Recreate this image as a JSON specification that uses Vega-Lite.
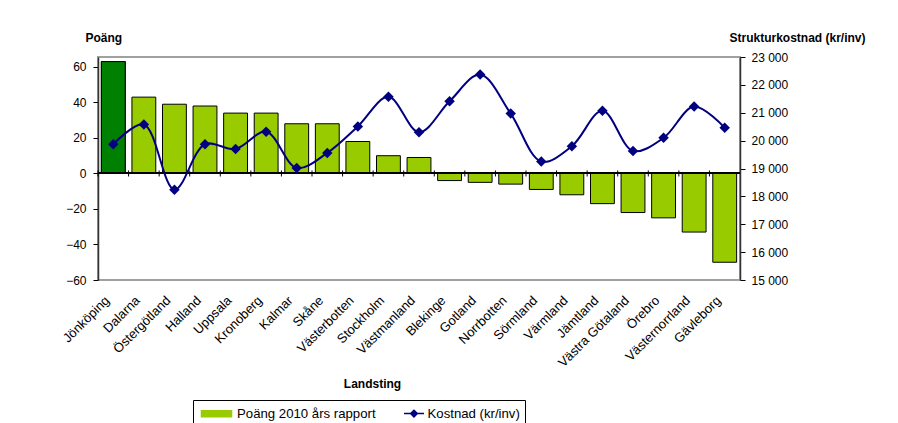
{
  "$schema": "https://vega.github.io/schema/vega-lite/v6.json",
  "width": 642,
  "height": 223,
  "autosize": {"type": "none"},
  "padding": {"left": 98, "top": 57, "right": 158, "bottom": 143},
  "background": "white",
  "config": {
    "view": {"stroke": "#A0A0A0", "strokeWidth": 2},
    "font": "Liberation Sans",
    "axis": {"labelFont": "Liberation Sans", "titleFont": "Liberation Sans", "labelColor": "black", "titleColor": "black", "grid": false, "labelOverlap": false}
  },
  "data": {"values": [
    {"landsting": "Jönköping", "poang": 63, "kostnad": 19870},
    {"landsting": "Dalarna", "poang": 43, "kostnad": 20580},
    {"landsting": "Östergötland", "poang": 39, "kostnad": 18240},
    {"landsting": "Halland", "poang": 38, "kostnad": 19870},
    {"landsting": "Uppsala", "poang": 34, "kostnad": 19700},
    {"landsting": "Kronoberg", "poang": 34, "kostnad": 20320},
    {"landsting": "Kalmar", "poang": 28, "kostnad": 19020},
    {"landsting": "Skåne", "poang": 28, "kostnad": 19560},
    {"landsting": "Västerbotten", "poang": 18, "kostnad": 20510},
    {"landsting": "Stockholm", "poang": 10, "kostnad": 21570},
    {"landsting": "Västmanland", "poang": 9, "kostnad": 20300},
    {"landsting": "Blekinge", "poang": -4, "kostnad": 21410},
    {"landsting": "Gotland", "poang": -5, "kostnad": 22370},
    {"landsting": "Norrbotten", "poang": -6, "kostnad": 20970},
    {"landsting": "Sörmland", "poang": -9, "kostnad": 19250},
    {"landsting": "Värmland", "poang": -12, "kostnad": 19800},
    {"landsting": "Jämtland", "poang": -17, "kostnad": 21070},
    {"landsting": "Västra Götaland", "poang": -22, "kostnad": 19630},
    {"landsting": "Örebro", "poang": -25, "kostnad": 20100},
    {"landsting": "Västernorrland", "poang": -33, "kostnad": 21220},
    {"landsting": "Gävleborg", "poang": -50, "kostnad": 20460}
  ]},
  "layer": [
    {
      "layer": [
        {
          "mark": {"type": "bar", "stroke": "black", "strokeWidth": 1, "width": {"band": 0.78}},
          "encoding": {
            "x": {"field": "landsting", "type": "nominal", "sort": null, "scale": {"paddingInner": 0, "paddingOuter": 0},
              "axis": {"title": "Landsting", "labelAngle": -45, "labelAlign": "right", "labelBaseline": "middle", "labelFontSize": 13, "labelPadding": 18, "labelOffset": -6, "domain": false, "ticks": false, "titleFontSize": 12, "titleFontWeight": "bold", "titleX": 274, "titleY": 103, "titleAlign": "center", "titleBaseline": "middle"}},
            "y": {"field": "poang", "type": "quantitative", "scale": {"domain": [-60, 65.6], "nice": false, "zero": false},
              "axis": {"values": [-60, -40, -20, 0, 20, 40, 60], "tickCount": 20, "labelOverlap": false, "title": "Poäng", "titleAngle": 0, "titleAlign": "left", "titleBaseline": "middle", "titleX": -13, "titleY": -20, "titleFontSize": 12, "titleFontWeight": "bold", "labelFontSize": 12, "tickSize": 5, "tickColor": "black", "domainColor": "#333333", "domainWidth": 1.5, "labelPadding": 7}},
            "color": {"datum": "Poäng 2010 års rapport", "type": "nominal",
              "scale": {"domain": ["Poäng 2010 års rapport", "Kostnad (kr/inv)"], "range": ["#99CC00", "#000080"]},
              "legend": {"title": null, "orient": "none", "legendX": 95, "legendY": 343, "direction": "horizontal", "strokeColor": "black", "fillColor": "white", "padding": 5, "labelFontSize": 13.2, "labelFont": "Liberation Sans", "labelColor": "black", "symbolSize": 225, "symbolOffset": 10, "columnPadding": 12.5, "labelOffset": 12, "symbolStrokeWidth": 1.5,
                "symbolType": {"expr": "datum.value === 'Kostnad (kr/inv)' ? 'M-0.4,0H2.27M0.48,0L0.93,-0.45L1.38,0L0.93,0.45Z' : 'M-2,-0.4H2V0.4H-2Z'"}}}
          }
        },
        {
          "transform": [{"filter": "datum.landsting === 'Jönköping'"}],
          "mark": {"type": "bar", "fill": "#008000", "stroke": "black", "strokeWidth": 1, "width": {"band": 0.78}},
          "encoding": {
            "x": {"field": "landsting", "type": "nominal", "sort": null},
            "y": {"field": "poang", "type": "quantitative"}
          }
        },
        {
          "mark": {"type": "rule", "color": "black", "strokeWidth": 1.2},
          "encoding": {"y": {"datum": 0, "type": "quantitative"}}
        },
        {
          "mark": {"type": "rule", "color": "black", "strokeWidth": 1},
          "encoding": {
            "x": {"field": "landsting", "type": "nominal", "sort": null, "bandPosition": 0},
            "y": {"datum": -1.7, "type": "quantitative"},
            "y2": {"datum": 1.7}
          }
        }
      ]
    },
    {
      "mark": {"type": "line", "interpolate": "catmull-rom", "strokeWidth": 2, "point": {"shape": "diamond", "filled": true, "size": 110}},
      "encoding": {
        "x": {"field": "landsting", "type": "nominal", "sort": null},
        "y": {"field": "kostnad", "type": "quantitative", "scale": {"domain": [15000, 23000], "nice": false, "zero": false},
          "axis": {"orient": "right", "values": [15000, 16000, 17000, 18000, 19000, 20000, 21000, 22000, 23000], "tickCount": 20, "labelOverlap": false, "labelExpr": "replace(format(datum.value, ',d'), ',', ' ')", "title": "Strukturkostnad (kr/inv)", "titleAngle": 0, "titleAlign": "left", "titleBaseline": "middle", "titleX": -11, "titleY": -20, "titleFontSize": 12, "titleFontWeight": "bold", "labelFontSize": 12, "tickSize": 5, "tickColor": "black", "domainColor": "#333333", "domainWidth": 1.5, "labelPadding": 6}},
        "color": {"datum": "Kostnad (kr/inv)", "type": "nominal"}
      }
    }
  ],
  "resolve": {"scale": {"y": "independent"}}
}
